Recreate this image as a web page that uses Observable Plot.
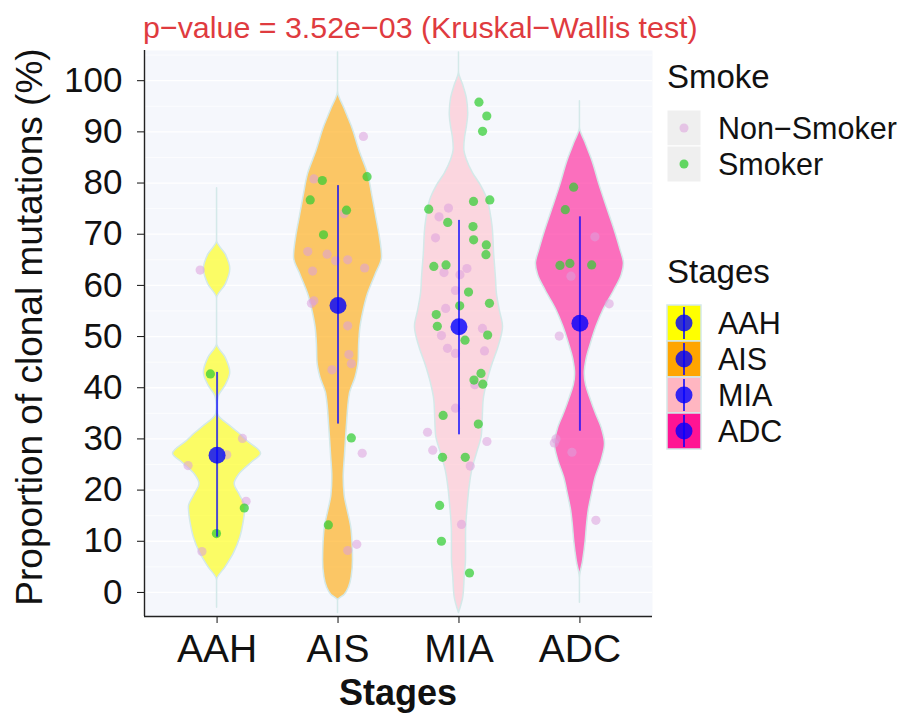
<!DOCTYPE html>
<html><head><meta charset="utf-8">
<script src="https://cdn.jsdelivr.net/npm/d3@7"></script>
<script src="https://cdn.jsdelivr.net/npm/@observablehq/plot@0.6"></script>
<style>
body{margin:0;background:#fff;}
#wrap{position:relative;width:899px;height:713px;overflow:hidden;}
#wrap > svg{position:absolute;left:0;top:0;}
g[aria-label^="x-axis"] text{font-size:39px;}
g[aria-label^="y-axis"] text{font-size:35px;}
</style></head><body><div id="wrap"></div>
<script>
// ---------- data ----------
const stages = ["AAH", "AIS", "MIA", "ADC"];
const stageColors = ["#ffff00", "#ffa500", "#ffc0cb", "#ff1493"];
const legendStageColors = ["#ffff00", "#ffa500", "#ffb6c1", "#ff1493"];
const smokeGroups = ["Non\u2212Smoker", "Smoker"];
const smokeColors = ["#dda0dd", "#32cd32"];
const yTicks = [0, 10, 20, 30, 40, 50, 60, 70, 80, 90, 100];
const yMinor = [5, 15, 25, 35, 45, 55, 65, 75, 85, 95, 105];

// violin profiles: [value, relative half-width]
const aahProfile = [[-3,0],[2.3,0],[5,0.2],[7.6,0.38],[10.8,0.53],[13.5,0.6],[16.7,0.64],[19,0.52],[21.2,0.4],[23,0.5],[25.3,0.78],[27.1,1.0],[29.7,0.67],[31.1,0.5],[32.3,0.33],[34.9,0.02],[36.5,0.01],[38.1,0.03],[40.5,0.2],[43,0.3],[45.8,0.2],[48.6,0],[57.4,0],[60.2,0.2],[63.2,0.3],[66,0.2],[68.7,0],[79,0]];
const aisProfile = [[-4,0],[-1.6,0],[-0.5,0.15],[1,0.25],[3,0.31],[6.3,0.34],[9.5,0.33],[12.75,0.3],[16,0.22],[19,0.15],[22.5,0.13],[27,0.16],[32.3,0.2],[38.8,0.27],[42,0.4],[45.3,0.47],[48.5,0.48],[51.8,0.51],[55,0.58],[58.3,0.68],[62,0.85],[65.5,1.0],[69.5,0.95],[73.3,0.87],[77.5,0.78],[81.8,0.68],[86,0.5],[90.9,0.32],[94.5,0.15],[98,0],[105.5,0]];
const miaProfile = [[-4,0],[-0.8,0.1],[3,0.13],[6.7,0.16],[11.5,0.16],[17,0.2],[20.5,0.24],[23.8,0.3],[27.5,0.42],[30.7,0.52],[34,0.54],[37.5,0.56],[41,0.64],[44.3,0.75],[48,0.9],[51.9,1.0],[55,0.93],[58.5,0.86],[61.4,0.84],[66,0.8],[71.7,0.76],[74,0.72],[76.5,0.66],[79.5,0.5],[81.9,0.32],[84.5,0.18],[86.7,0.12],[89,0.14],[91,0.18],[93.6,0.21],[96.5,0.18],[99,0.1],[101.8,0],[105.5,0]];
const adcProfile = [[-2,0],[2.7,0],[6,0.07],[10,0.13],[13,0.16],[16,0.2],[19,0.27],[22.5,0.36],[26,0.5],[29,0.57],[32,0.5],[35,0.36],[38.1,0.23],[40.5,0.14],[42.7,0.11],[45.5,0.15],[48.6,0.25],[52,0.38],[55.1,0.53],[59,0.78],[62,0.95],[64.2,1.0],[67,0.92],[70.5,0.8],[74.6,0.64],[79.5,0.45],[84.4,0.28],[88,0.12],[90.9,0],[96,0]];

// samples: [value, jitter (category units), smoke index]
const aahPoints = [[63.0,-0.14,0],[42.7,-0.055,1],[30.1,0.21,0],[26.9,0.08,0],[24.8,-0.24,0],[17.8,0.24,0],[16.5,0.225,1],[11.5,-0.005,1],[8.0,-0.125,0]];
const aisPoints = [[89.1,0.21,0],[80.8,-0.2,0],[80.5,-0.13,1],[81.25,0.24,1],[76.7,-0.23,1],[74.0,0.05,0],[74.7,0.07,1],[69.9,-0.12,1],[66.6,-0.25,0],[66.1,-0.09,0],[64.8,-0.02,0],[65.0,0.08,0],[63.4,0.22,0],[62.8,-0.21,0],[57.0,-0.2,0],[56.5,-0.22,0],[52.1,0.08,0],[46.5,0.09,0],[44.7,0.11,0],[43.5,-0.05,0],[30.2,0.11,1],[27.2,0.2,0],[13.2,-0.08,1],[9.4,0.155,0],[8.2,0.08,0]];
const miaPoints = [[95.8,0.165,1],[93.1,0.23,1],[90.1,0.195,1],[76.4,0.12,1],[76.7,0.255,1],[74.9,-0.25,1],[75.1,-0.087,0],[73.4,-0.165,0],[72.3,-0.093,1],[71.5,0.116,1],[69.3,-0.194,0],[68.9,0.121,1],[67.9,0.226,1],[66,0.223,1],[63.7,-0.208,1],[64,-0.107,1],[62.5,-0.124,0],[63.3,0.066,0],[62.1,0.008,0],[59,-0.029,0],[58.7,0.079,1],[56.5,0.252,1],[56,0.006,1],[55.5,-0.11,0],[54.3,-0.188,1],[52,-0.179,1],[50.2,-0.145,0],[51.6,0.194,0],[50.3,0.237,1],[49.3,0.05,1],[47.7,-0.095,0],[46.7,-0.029,0],[47.2,0.211,0],[42.8,0.182,1],[41.5,0.124,1],[40.7,0.197,1],[40.6,0.131,0],[36,-0.029,0],[34.6,-0.131,1],[32.9,0.16,1],[31.3,-0.26,0],[29.5,0.231,0],[27.8,-0.217,0],[26.4,-0.136,1],[26.4,0.052,1],[24.7,0.093,0],[17,-0.16,1],[13.3,0.021,0],[10,-0.145,1],[3.8,0.087,1]];
const adcPoints = [[79.2,-0.052,1],[74.8,-0.121,1],[69.5,0.124,0],[63.9,-0.165,1],[64.3,-0.083,1],[64.0,0.097,1],[61.8,-0.074,0],[56.4,0.242,0],[50.1,-0.171,0],[30.0,-0.198,0],[29.2,-0.212,0],[27.4,-0.066,0],[14.1,0.132,0]];

const means = [26.8, 56.05, 51.9, 52.6];
const sdLow = [10.8, 32.9, 30.8, 31.5];
const sdHigh = [43.0, 79.5, 72.7, 73.4];

const title = "p\u2212value = 3.52e\u221203 (Kruskal\u2212Wallis test)";
const yTitle = "Proportion of clonal mutations (%)";
const xTitle = "Stages";

// ---------- build ----------
const profiles = [aahProfile, aisProfile, miaProfile, adcProfile];
const pointSets = [aahPoints, aisPoints, miaPoints, adcPoints];
const HALF = 0.364; // max violin half-width in category units

const violinMarks = profiles.map((prof, i) => Plot.areaX(prof, {
  y: d => d[0],
  x1: d => (i + 1) - d[1] * HALF,
  x2: d => (i + 1) + d[1] * HALF,
  fill: stageColors[i], fillOpacity: 0.6,
  stroke: "#d4e9e9", strokeWidth: 1.5,
  curve: "monotone-y"
}));

const samples = pointSets.flatMap((pts, i) => pts.map(p => ({x: (i + 1) + p[1], y: p[0], smoke: p[2]})));
const stats = stages.map((s, i) => ({x: i + 1, mean: means[i], lo: sdLow[i], hi: sdHigh[i]}));

const chart = Plot.plot({
  width: 899, height: 713,
  marginLeft: 144, marginRight: 247, marginTop: 50, marginBottom: 97,
  style: {fontFamily: "'Liberation Sans', Arial, sans-serif", fontSize: "35px", color: "#111", background: "transparent", overflow: "visible"},
  x: {domain: [0.4, 4.6], ticks: [1, 2, 3, 4], tickFormat: i => stages[i - 1], label: null, tickSize: 7, tickPadding: 11},
  y: {domain: [-4.7, 105.9], ticks: yTicks, label: null, tickSize: 7, tickPadding: 15},
  marks: [
    Plot.frame({fill: "#f5f7fc", stroke: null}),
    Plot.ruleY(yMinor, {stroke: "#ffffff", strokeWidth: 0.7}),
    Plot.ruleY(yTicks, {stroke: "#ffffff", strokeWidth: 1.3}),
    ...violinMarks,
    Plot.dot(samples.filter(d => d.smoke === 0), {x: "x", y: "y", r: 4.6, fill: smokeColors[0], fillOpacity: 0.55, stroke: null}),
    Plot.dot(samples.filter(d => d.smoke === 1), {x: "x", y: "y", r: 4.6, fill: smokeColors[1], fillOpacity: 0.72, stroke: null}),
    Plot.ruleX(stats, {x: "x", y1: "lo", y2: "hi", stroke: "#0000ff", strokeOpacity: 0.7, strokeWidth: 2}),
    Plot.dot(stats, {x: "x", y: "mean", r: 8.5, fill: "#0000ff", fillOpacity: 0.8, stroke: null}),
    Plot.ruleX([0.4], {stroke: "#222", strokeWidth: 1.4}),
    Plot.ruleY([-4.7], {stroke: "#222", strokeWidth: 1.4})
  ]
});

const wrap = document.getElementById("wrap");
wrap.appendChild(chart);

// ---------- overlay: titles and legends ----------
const ff = "'Liberation Sans', Arial, sans-serif";
let s = `<svg width="899" height="713" xmlns="http://www.w3.org/2000/svg" font-family="${ff}">`;
s += `<text x="143" y="38" font-size="30.4" fill="#df3b3f">${title}</text>`;
s += `<text transform="translate(42,327) rotate(-90)" text-anchor="middle" font-size="37" fill="#111">${yTitle}</text>`;
s += `<text x="398" y="705" text-anchor="middle" font-size="36" font-weight="bold" fill="#111">${xTitle}</text>`;
// Smoke legend
s += `<text x="667" y="88" font-size="33" fill="#111">Smoke</text>`;
smokeGroups.forEach((g, i) => {
  const y0 = 110 + i * 36;
  s += `<rect x="667" y="${y0}" width="34" height="36" fill="#efefef" stroke="#ffffff" stroke-width="1"/>`;
  s += `<circle cx="684" cy="${y0 + 18}" r="4.5" fill="${smokeColors[i]}" fill-opacity="${i === 0 ? 0.55 : 0.75}"/>`;
  s += `<text x="718" y="${y0 + 18}" dy="0.35em" font-size="30.5" fill="#111">${g}</text>`;
});
// Stages legend
s += `<text x="667" y="283" font-size="33" fill="#111">Stages</text>`;
stages.forEach((g, i) => {
  const y0 = 305 + i * 36;
  s += `<rect x="667" y="${y0}" width="34" height="36" fill="${legendStageColors[i]}" stroke="#d4e9e9" stroke-width="1.5"/>`;
  s += `<line x1="684" x2="684" y1="${y0 + 2}" y2="${y0 + 34}" stroke="#0000ff" stroke-opacity="0.75" stroke-width="2"/>`;
  s += `<circle cx="684" cy="${y0 + 18}" r="8.5" fill="#0000ff" fill-opacity="0.8"/>`;
  s += `<text x="718" y="${y0 + 18}" dy="0.35em" font-size="30.5" fill="#111">${g}</text>`;
});
s += `</svg>`;
wrap.insertAdjacentHTML("beforeend", s);
</script></body></html>
